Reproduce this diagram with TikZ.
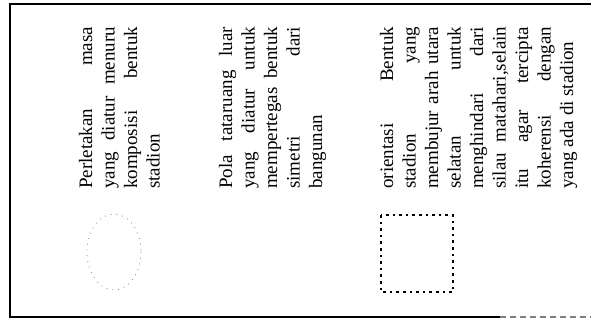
\documentclass[tikz,border=0pt]{standalone}
\usepackage{fontspec}
\setmainfont{Liberation Serif}
\hbadness=10000

\tikzset{
  coltext/.style={rotate=90, anchor=base west, inner sep=0pt},
}
\newcommand{\coltxt}[1]{\parbox[t]{162pt}{\fontsize{19}{22.5}\selectfont
  \tolerance=10000 \hyphenpenalty=10000 #1}}

\begin{document}
\begin{tikzpicture}[x=1pt,y=-1pt]
\useasboundingbox (0,0) rectangle (591,327);
% frame, open at the right
\draw [line width=2pt] (10,318) -- (10,4) -- (591,4);
\draw [line width=1.5pt] (10,317) -- (500,317);
\draw [line width=1.2pt, draw=gray, dash pattern=on 6pt off 4pt] (500,317) -- (591,317);
% text columns
\node[coltext] (massa) at (92,189) {\coltxt{Perletakan masa\linebreak yang diatur menuru\linebreak komposisi bentuk\linebreak stadion}};
\node[coltext] (tataruang) at (232,189) {\coltxt{Pola tataruang luar\linebreak yang diatur untuk\linebreak mempertegas bentuk\linebreak simetri dari\linebreak bangunan}};
\node[coltext] (orientasi) at (393,189) {\coltxt{orientasi Bentuk\linebreak stadion yang\linebreak membujur arah utara\linebreak selatan untuk\linebreak menghindari dari\linebreak silau matahari,selain\linebreak itu agar tercipta\linebreak koherensi dengan\linebreak yang ada di stadion}};
% symbols
\draw [draw=gray, line width=0.8pt, dash pattern=on 0.8pt off 5pt] (114,252) ellipse (27 and 38);
\draw [line width=2.6pt, dash pattern=on 2.6pt off 4pt] (381,215) rectangle (453,292);
\end{tikzpicture}
\end{document}
